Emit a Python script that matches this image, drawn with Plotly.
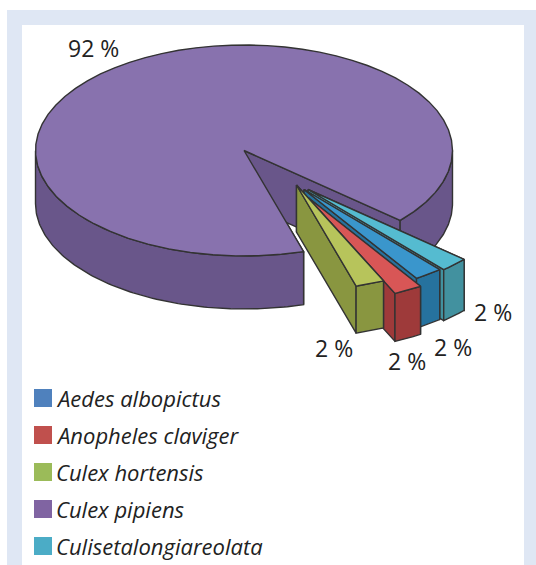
import numpy as np
import plotly.graph_objects as go

# ---- data ----
species = ["Aedes albopictus", "Anopheles claviger", "Culex hortensis", "Culex pipiens", "Culisetalongiareolata"]
shares = [2, 2, 2, 92, 2]
share_labels = ["2 %", "2 %", "2 %", "92 %", "2 %"]

# ---- style ----
legend_colors = ["#4F81BD", "#C0504D", "#9BBB59", "#8064A2", "#4BACC6"]
top_colors = ["#3A96CC", "#D85656", "#B7C45B", "#8872AE", "#55BBD0"]
side_colors = ["#26729E", "#9E3A3A", "#899640", "#69568A", "#42919F"]
# explosion of each slice from the pie centre, px
explode = [(60, 39), (64, 47), (52.5, 34.5), (0, 0), (64, 39)]
depths = [50, 48, 47, 53, 51]
label_pos = [(453, 347), (407, 361), (334, 348), (93, 48), (493, 312)]
LINE = "#333333"
W, H = 536, 565
CX, CY, RX, RY = 244, 150.5, 208.5, 105.5
START = 46.4   # angle where the sequence begins, clockwise from east
WARP = 7.1     # perspective widening of near slices, degrees
order = [4, 0, 1, 2, 3]  # clockwise from START: teal, blue, red, green, purple


def warp(t):
    return t + WARP * np.sin(np.radians(t - 90))


def arc(c, a0, a1, n=60):
    ph = np.radians(warp(np.linspace(a0, a1, n)))
    return c[0] + RX * np.cos(ph), c[1] + RY * np.sin(ph)


def poly(fig, x, y, fill):
    fig.add_trace(go.Scatter(
        x=np.r_[x, x[0]], y=np.r_[y, y[0]], mode="lines", fill="toself", fillcolor=fill,
        line=dict(color=LINE, width=1.4), hoverinfo="skip", showlegend=False))


# angle spans from the shares
spans = {}
a = START
for i in order:
    spans[i] = (a, a + shares[i] * 3.6)
    a += shares[i] * 3.6

fig = go.Figure()


def draw_slice(i):
    a0, a1 = spans[i]
    c = (CX + explode[i][0], CY + explode[i][1])
    d = depths[i]
    ax, ay = arc(c, a0, a1)
    # cut-edge walls
    sx, sy = arc(c, a0, a0, 1)
    poly(fig, np.r_[c[0], sx, sx, c[0]], np.r_[c[1], sy, sy + d, c[1] + d], side_colors[i])
    ex, ey = arc(c, a1, a1, 1)
    poly(fig, np.r_[c[0], ex, ex, c[0]], np.r_[c[1], ey, ey + d, c[1] + d], side_colors[i])
    # outer wall: only the stretches of rim that face the viewer
    t = np.linspace(a0, a1, 1500)
    front = np.sin(np.radians(warp(t))) >= 0
    edges = np.flatnonzero(np.diff(np.r_[0, front.astype(int), 0]))
    for s, e in zip(edges[::2], edges[1::2]):
        ox, oy = arc(c, t[s], t[e - 1], 120)
        poly(fig, np.r_[ox, ox[::-1]], np.r_[oy, oy[::-1] + d], side_colors[i])
    # top face
    poly(fig, np.r_[c[0], ax], np.r_[c[1], ay], top_colors[i])


for i in [3, 4, 0, 1, 2]:
    draw_slice(i)

# legend
for k, (name, col) in enumerate(zip(species, legend_colors)):
    fig.add_trace(go.Scatter(x=[43], y=[398 + 37 * k], mode="markers", showlegend=False, hoverinfo="skip",
                             marker=dict(symbol="square", size=18, color=col, line=dict(width=0))))
    fig.add_annotation(x=54, y=397.5 + 37 * k, text=f"<i>{name}</i>", showarrow=False, xanchor="left",
                       font=dict(family="Open Sans", size=22, color="#222222"))

for lab, (x, y) in zip(share_labels, label_pos):
    fig.add_annotation(x=x, y=y, text=lab, showarrow=False, font=dict(family="Open Sans", size=23, color="#222222"))

fig.update_layout(
    width=W, height=H, margin=dict(l=0, r=0, t=0, b=0), paper_bgcolor="white", plot_bgcolor="white",
    showlegend=False,
    xaxis=dict(range=[0, W], visible=False, fixedrange=True),
    yaxis=dict(range=[H, 0], visible=False, fixedrange=True),
    shapes=[
        dict(type="rect", layer="below", x0=7, x1=536, y0=10, y1=565, fillcolor="#DFE7F4", line=dict(width=0)),
        dict(type="rect", layer="below", x0=22, x1=524, y0=25, y1=565, fillcolor="white", line=dict(width=0)),
    ],
)
fig.write_html("out.html", config=dict(displayModeBar=False),
               post_script="document.body.style.margin='0';document.documentElement.style.overflow='hidden';")
